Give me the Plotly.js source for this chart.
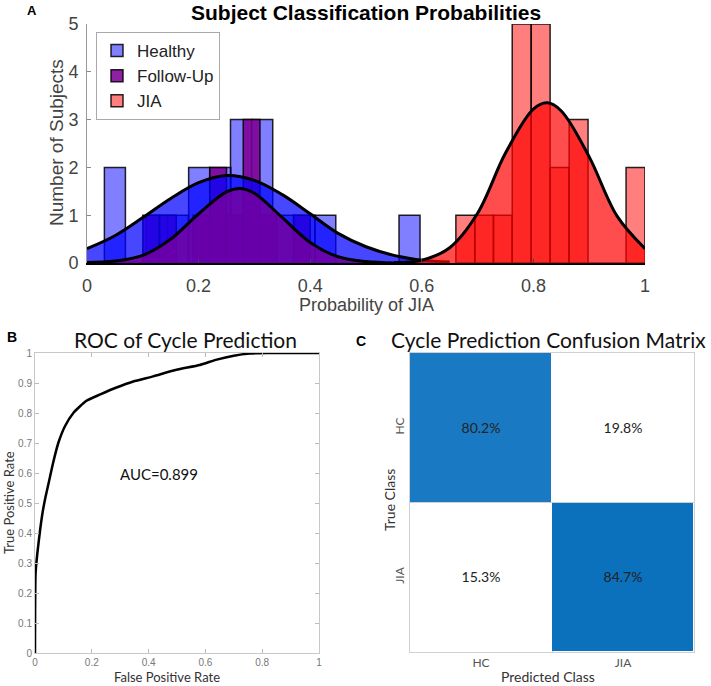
<!DOCTYPE html>
<html>
<head>
<meta charset="utf-8">
<script src="https://cdn.plot.ly/plotly-3.0.1.min.js"></script>
<style>
  html, body { margin: 0; padding: 0; background: #fff; }
  #chart { width: 711px; height: 686px; }
</style>
</head>
<body>
<div id="chart"></div>
<script>
// Panel A: histogram bins (centres) and counts
const healthyCenters = [0.050, 0.088, 0.125, 0.163, 0.201, 0.239, 0.276, 0.314, 0.352, 0.390, 0.427, 0.465, 0.503, 0.541, 0.578];
const healthyCounts  = [2, 0, 1, 1, 2, 2, 3, 3, 1, 1, 1, 0, 0, 0, 1];
const healthyWidth = 0.0377;

const followCenters = [0.115, 0.145, 0.175, 0.205, 0.235, 0.265, 0.295, 0.325, 0.355, 0.385];
const followCounts  = [1, 1, 0, 1, 2, 1, 3, 1, 0, 1];
const followWidth = 0.030;

const jiaCenters = [0.678, 0.712, 0.745, 0.779, 0.813, 0.847, 0.881, 0.915, 0.949, 0.983];
const jiaCounts  = [1, 1, 1, 5, 5, 2, 3, 0, 0, 2];
const jiaWidth = 0.0339;

// fitted normal curves
const healthyFitX = [0, 0.05, 0.1, 0.15, 0.2, 0.25, 0.3, 0.35, 0.4, 0.45, 0.5, 0.55, 0.6, 0.65];
const healthyFitY = [0.30, 0.57, 0.95, 1.35, 1.68, 1.83, 1.73, 1.43, 1.03, 0.62, 0.34, 0.16, 0.06, 0.02];

const followFitX = [0, 0.05, 0.1, 0.15, 0.2, 0.25, 0.275, 0.3, 0.35, 0.4, 0.45, 0.5, 0.55];
const followFitY = [0.01, 0.04, 0.16, 0.50, 1.03, 1.49, 1.56, 1.46, 0.95, 0.43, 0.13, 0.03, 0.0];

const jiaFitX = [0.55, 0.6, 0.65, 0.7, 0.75, 0.8, 0.825, 0.85, 0.9, 0.95, 1.0];
const jiaFitY = [0.01, 0.06, 0.32, 1.04, 2.30, 3.22, 3.35, 3.18, 2.22, 0.98, 0.30];

// Panel B: ROC curve points
const rocFpr = [0, 0.002, 0.008, 0.018, 0.027, 0.037, 0.05, 0.064, 0.082, 0.105, 0.135, 0.18, 0.23, 0.287, 0.346, 0.416, 0.498, 0.58, 0.64, 0.70, 0.756, 0.815, 1.0];
const rocTpr = [0, 0.265, 0.33, 0.41, 0.47, 0.52, 0.575, 0.635, 0.70, 0.755, 0.80, 0.84, 0.862, 0.885, 0.905, 0.922, 0.944, 0.96, 0.978, 0.991, 0.998, 1.0, 1.0];
const aucText = 'AUC=0.899';

// Panel C: confusion matrix (row = true class, column = predicted class)
const classes = ['HC', 'JIA'];
const confusion = [[80.2, 19.8], [15.3, 84.7]];

const W = 711, H = 686;
function px(x) { return x / W; }
function py(y) { return 1 - y / H; }

const histLine = { color: 'rgba(0,0,0,0.85)', width: 1.5 };

const traces = [
    { type: 'bar', name: 'Healthy', x: healthyCenters, y: healthyCounts, width: healthyWidth,
      marker: { color: 'rgba(0,0,255,0.5)', line: histLine }, xaxis: 'x', yaxis: 'y' },
    { type: 'bar', name: 'Follow-Up', x: followCenters, y: followCounts, width: followWidth,
      marker: { color: 'rgba(128,0,150,0.88)', line: histLine }, xaxis: 'x', yaxis: 'y' },
    { type: 'bar', name: 'JIA', x: jiaCenters, y: jiaCounts, width: jiaWidth,
      marker: { color: 'rgba(255,0,0,0.5)', line: histLine }, xaxis: 'x', yaxis: 'y' },
    { type: 'scatter', mode: 'lines', x: healthyFitX, y: healthyFitY, fill: 'tozeroy',
      fillcolor: 'rgba(0,0,255,0.72)', line: { color: '#000', width: 3, shape: 'spline' },
      showlegend: false, xaxis: 'x', yaxis: 'y' },
    { type: 'scatter', mode: 'lines', x: followFitX, y: followFitY, fill: 'tozeroy',
      fillcolor: 'rgba(115,0,160,0.85)', line: { color: '#000', width: 3, shape: 'spline' },
      showlegend: false, xaxis: 'x', yaxis: 'y' },
    { type: 'scatter', mode: 'lines', x: jiaFitX, y: jiaFitY, fill: 'tozeroy',
      fillcolor: 'rgba(255,0,0,0.7)', line: { color: '#000', width: 3, shape: 'spline' },
      showlegend: false, xaxis: 'x', yaxis: 'y' },
    { type: 'scatter', mode: 'lines', x: rocFpr, y: rocTpr,
      line: { color: '#000', width: 2.5, shape: 'spline', smoothing: 0.5 },
      showlegend: false, xaxis: 'x2', yaxis: 'y2' },
    { type: 'heatmap', x: [0, 1], y: [0, 1], z: confusion,
      zmin: 0, zmax: 100, showscale: false, xgap: 1, ygap: 1,
      colorscale: [[0, '#ffffff'], [0.5, '#ffffff'], [0.8, 'rgb(27,121,195)'], [0.85, 'rgb(10,113,189)'], [1, 'rgb(0,100,170)']],
      texttemplate: '%{z:.1f}%', textfont: { family: 'Lato, sans-serif', size: 14, color: '#222' },
      hoverinfo: 'skip', xaxis: 'x3', yaxis: 'y3' }
];

const grayTick = { family: 'Arial, sans-serif', size: 10, color: '#777' };
const calib = 'Lato, "Open Sans", sans-serif';

const layout = {
    width: W, height: H,
    margin: { l: 0, r: 0, t: 0, b: 0 },
    paper_bgcolor: '#fff', plot_bgcolor: '#fff',
    barmode: 'overlay',
    showlegend: true,
    legend: {
        x: px(96), y: py(32), xanchor: 'left', yanchor: 'top',
        bgcolor: '#fff', bordercolor: '#aaa', borderwidth: 1,
        font: { family: 'Arial, sans-serif', size: 17, color: '#222' },
        itemwidth: 30, tracegroupgap: 0
    },
    xaxis: {
        domain: [px(87), px(645)], anchor: 'y', range: [0, 1],
        tickvals: [0, 0.2, 0.4, 0.6, 0.8, 1], ticks: 'inside', ticklen: 4,
        showgrid: false, zeroline: false, showline: true, linecolor: '#000', linewidth: 2,
        tickfont: { family: 'Arial, sans-serif', size: 18, color: '#444' }, ticklabelstandoff: 5
    },
    yaxis: {
        domain: [py(263), py(24)], anchor: 'x', range: [0, 5], dtick: 1,
        ticks: 'inside', ticklen: 4, tickcolor: '#888',
        showgrid: false, zeroline: false, showline: true, linecolor: '#999', linewidth: 1,
        tickfont: { family: 'Arial, sans-serif', size: 18, color: '#444' }, ticklabelstandoff: 4
    },
    xaxis2: {
        domain: [px(35), px(319)], anchor: 'y2', range: [0, 1], dtick: 0.2,
        ticks: 'inside', ticklen: 4, tickcolor: '#bbb', mirror: 'ticks',
        showgrid: false, zeroline: false, showline: true, linecolor: '#c8c8c8', linewidth: 1,
        tickfont: grayTick
    },
    yaxis2: {
        domain: [py(653), py(353)], anchor: 'x2', range: [0, 1], dtick: 0.1,
        ticks: 'inside', ticklen: 4, tickcolor: '#bbb', mirror: 'ticks',
        showgrid: false, zeroline: false, showline: true, linecolor: '#c8c8c8', linewidth: 1,
        tickfont: grayTick
    },
    xaxis3: {
        domain: [px(410), px(694)], anchor: 'y3', range: [-0.5, 1.5],
        tickvals: [0, 1], ticktext: classes, ticks: '',
        showgrid: false, zeroline: false, showline: true, mirror: true, linecolor: '#d0d0d0',
        minor: { tickvals: [0.5], showgrid: true, gridcolor: '#d0d0d0', gridwidth: 1, ticks: '' },
        tickfont: { family: calib, size: 12, color: '#555' }
    },
    yaxis3: {
        domain: [py(652), py(353)], anchor: 'x3', range: [1.5, -0.5],
        tickvals: [0, 1], ticktext: classes, ticks: '', tickangle: -90,
        showgrid: false, zeroline: false, showline: true, mirror: true, linecolor: '#d0d0d0',
        minor: { tickvals: [0.5], showgrid: true, gridcolor: '#d0d0d0', gridwidth: 1, ticks: '' },
        tickfont: { family: calib, size: 12, color: '#555' }
    },
    annotations: [
        { text: '<b>A</b>', x: px(32), y: py(11), font: { family: 'Arial, sans-serif', size: 13, color: '#000' } },
        { text: '<b>Subject Classification Probabilities</b>', x: px(366), y: py(12), font: { family: 'Arial, sans-serif', size: 21, color: '#000' } },
        { text: 'Number of Subjects', x: px(56), y: py(143), textangle: -90, font: { family: 'Arial, sans-serif', size: 19, color: '#444' } },
        { text: 'Probability of JIA', x: px(366), y: py(305), font: { family: 'Arial, sans-serif', size: 18, color: '#444' } },

        { text: '<b>B</b>', x: px(12), y: py(337), font: { family: 'Arial, sans-serif', size: 14, color: '#000' } },
        { text: 'ROC of Cycle Prediction', x: px(185), y: py(339), font: { family: calib, size: 21, color: '#111' } },
        { text: aucText, x: px(159), y: py(474), font: { family: calib, size: 15, color: '#111' } },
        { text: 'True Positive Rate', x: px(9), y: py(503), textangle: -90, font: { family: calib, size: 13, color: '#333' } },
        { text: 'False Positive Rate', x: px(167), y: py(677), font: { family: calib, size: 13, color: '#333' } },

        { text: '<b>C</b>', x: px(361), y: py(341), font: { family: 'Arial, sans-serif', size: 14, color: '#000' } },
        { text: 'Cycle Prediction Confusion Matrix', x: px(548), y: py(339), font: { family: calib, size: 21, color: '#111' } },
        { text: 'True Class', x: px(390), y: py(500), textangle: -90, font: { family: calib, size: 14, color: '#333' } },
        { text: 'Predicted Class', x: px(548), y: py(676), font: { family: calib, size: 14, color: '#333' } }
    ].map(function (a) {
        return Object.assign({ xref: 'paper', yref: 'paper', showarrow: false, xanchor: 'center', yanchor: 'middle' }, a);
    })
};

Plotly.newPlot('chart', traces, layout, { displayModeBar: false, staticPlot: true });
</script>
</body>
</html>
